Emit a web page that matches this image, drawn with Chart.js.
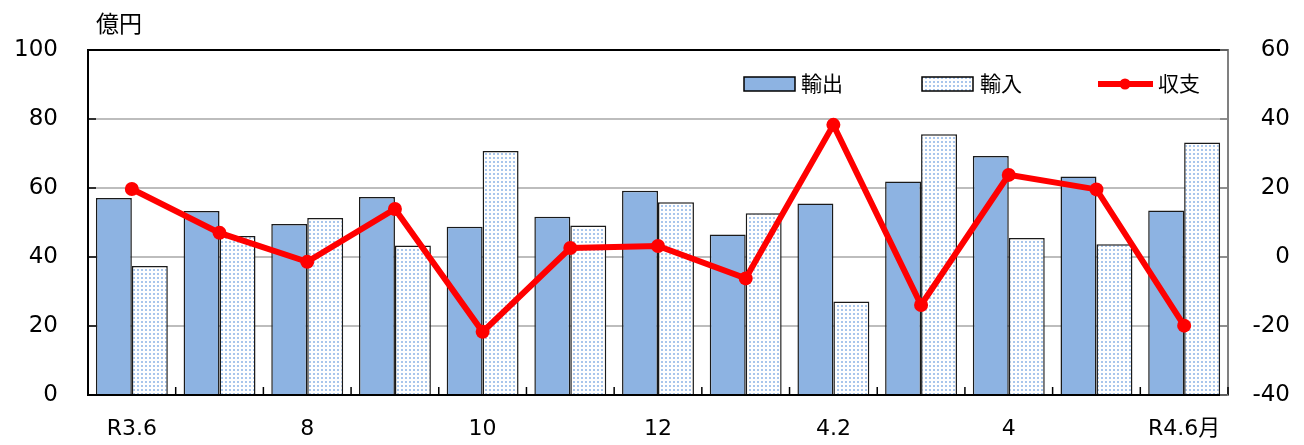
<!DOCTYPE html>
<html>
<head>
<meta charset="utf-8">
<script src="https://cdn.jsdelivr.net/npm/chart.js@4/dist/chart.umd.min.js"></script>
<style>
  html, body { margin: 0; padding: 0; background: #fff; }
  #wrap { width: 1304px; height: 445px; }
</style>
</head>
<body>
<div id="wrap"><canvas id="chart" width="1304" height="445"></canvas></div>
<script>
// months R3.6 .. R4.6
const months = ['R3.6', '', '8', '', '10', '', '12', '', '4.2', '', '4', '', 'R4.6月'];
const exportsData = [57.1, 53.3, 49.6, 57.4, 48.8, 51.7, 59.2, 46.5, 55.5, 61.9, 69.3, 63.3, 53.5];
const importsData = [37.4, 46.1, 51.3, 43.3, 70.7, 49.1, 55.9, 52.7, 27.1, 75.6, 45.5, 43.7, 73.2];
const balanceData = [19.7, 7.0, -1.4, 13.9, -21.7, 2.6, 3.2, -6.2, 38.3, -13.9, 23.8, 19.6, -19.9];
const leftTicks = [0, 20, 40, 60, 80, 100];
const rightTicks = [-40, -20, 0, 20, 40, 60];

const FONT = "'DejaVu Sans', 'Noto Sans CJK JP', sans-serif";
const JP = "'Noto Sans CJK JP', sans-serif";
const BLUE = '#8db3e2';
const RED = '#ff0000';

// dotted fill for imports
function dotPattern() {
    const c = document.createElement('canvas');
    c.width = 4; c.height = 4;
    const g = c.getContext('2d');
    g.fillStyle = '#ffffff';
    g.fillRect(0, 0, 4, 4);
    g.fillStyle = '#a9c6ec';
    g.fillRect(1, 1, 2, 2);
    return g.createPattern(c, 'repeat');
}
const dots = dotPattern();

// frame, inner ticks, unit label and legend
const decor = {
    id: 'decor',
    afterDraw(chart) {
        const ctx = chart.ctx;
        const a = chart.chartArea;
        const x = chart.scales.x;
        const yl = chart.scales.y;
        const yr = chart.scales.y2;
        ctx.save();

        // top border
        ctx.strokeStyle = '#000';
        ctx.lineWidth = 2;
        ctx.beginPath();
        ctx.moveTo(a.left, a.top);
        ctx.lineTo(a.right, a.top);
        ctx.stroke();

        // x ticks at category boundaries (inside)
        const n = months.length;
        ctx.lineWidth = 1.5;
        ctx.strokeStyle = '#000';
        for (let i = 1; i <= n; i++) {
            const px = x.left + i * (x.right - x.left) / n;
            ctx.beginPath();
            ctx.moveTo(px, a.bottom);
            ctx.lineTo(px, a.bottom - 8);
            ctx.stroke();
        }
        // left y ticks inside
        leftTicks.forEach(v => {
            const py = yl.getPixelForValue(v);
            ctx.beginPath();
            ctx.moveTo(a.left, py);
            ctx.lineTo(a.left + 8, py);
            ctx.stroke();
        });
        // right y ticks inside
        ctx.strokeStyle = '#808080';
        rightTicks.forEach(v => {
            const py = yr.getPixelForValue(v);
            ctx.beginPath();
            ctx.moveTo(a.right, py);
            ctx.lineTo(a.right - 8, py);
            ctx.stroke();
        });

        // unit
        ctx.fillStyle = '#000';
        ctx.font = '23px ' + JP;
        ctx.textBaseline = 'middle';
        ctx.textAlign = 'left';
        ctx.fillText('億円', 96, 23);

        // legend
        ctx.lineWidth = 1.5;
        ctx.strokeStyle = '#000';
        ctx.fillStyle = BLUE;
        ctx.fillRect(744, 77, 51, 14);
        ctx.strokeRect(744, 77, 51, 14);
        ctx.fillStyle = dots;
        ctx.fillRect(922, 77, 51, 14);
        ctx.strokeRect(922, 77, 51, 14);
        ctx.strokeStyle = RED;
        ctx.lineWidth = 6;
        ctx.beginPath();
        ctx.moveTo(1098, 84);
        ctx.lineTo(1153, 84);
        ctx.stroke();
        ctx.fillStyle = RED;
        ctx.beginPath();
        ctx.arc(1125, 84, 5.5, 0, Math.PI * 2);
        ctx.fill();

        ctx.fillStyle = '#000';
        ctx.font = '21px ' + JP;
        ctx.fillText('輸出', 801, 83);
        ctx.fillText('輸入', 980, 83);
        ctx.fillText('収支', 1158, 83);
        ctx.restore();
    }
};

new Chart(document.getElementById('chart'), {
    type: 'bar',
    data: {
        labels: months,
        datasets: [
            {
                type: 'line',
                label: '収支',
                data: balanceData,
                yAxisID: 'y2',
                borderColor: RED,
                backgroundColor: RED,
                borderWidth: 6,
                pointRadius: 7,
                pointHoverRadius: 7,
                pointBorderWidth: 0,
                tension: 0,
                order: 0
            },
            {
                label: '輸出',
                data: exportsData,
                yAxisID: 'y',
                backgroundColor: BLUE,
                borderColor: '#1a1a1a',
                borderWidth: 1.5,
                categoryPercentage: 0.82,
                barPercentage: 1.0,
                order: 1
            },
            {
                label: '輸入',
                data: importsData,
                yAxisID: 'y',
                backgroundColor: dots,
                borderColor: '#1a1a1a',
                borderWidth: 1.5,
                categoryPercentage: 0.82,
                barPercentage: 1.0,
                order: 1
            }
        ]
    },
    options: {
        responsive: false,
        animation: false,
        devicePixelRatio: 1,
        layout: { padding: { top: 50, right: 14, left: 0, bottom: 0 } },
        plugins: {
            legend: { display: false },
            tooltip: { enabled: false }
        },
        scales: {
            x: {
                offset: true,
                grid: { display: false, drawTicks: false },
                border: { color: '#000', width: 2 },
                ticks: {
                    autoSkip: false,
                    maxRotation: 0,
                    padding: 21,
                    color: '#000',
                    font: { family: FONT, size: 22 }
                },
                afterFit(s) { s.height = 50; }
            },
            y: {
                position: 'left',
                min: 0,
                max: 100,
                afterBuildTicks(s) { s.ticks = leftTicks.map(v => ({ value: v })); },
                grid: { color: '#bdbdbd', lineWidth: 2, drawTicks: false },
                border: { color: '#000', width: 2 },
                ticks: {
                    padding: 30,
                    color: '#000',
                    font: { family: FONT, size: 23 }
                },
                afterFit(s) { s.width = 88; }
            },
            y2: {
                position: 'right',
                min: -40,
                max: 60,
                afterBuildTicks(s) { s.ticks = rightTicks.map(v => ({ value: v })); },
                grid: { drawOnChartArea: false, drawTicks: false },
                border: { color: '#808080', width: 2 },
                ticks: {
                    crossAlign: 'far',
                    padding: 10,
                    color: '#000',
                    font: { family: FONT, size: 23 }
                },
                afterFit(s) { s.width = 62; }
            }
        }
    },
    plugins: [decor]
});
</script>
</body>
</html>
